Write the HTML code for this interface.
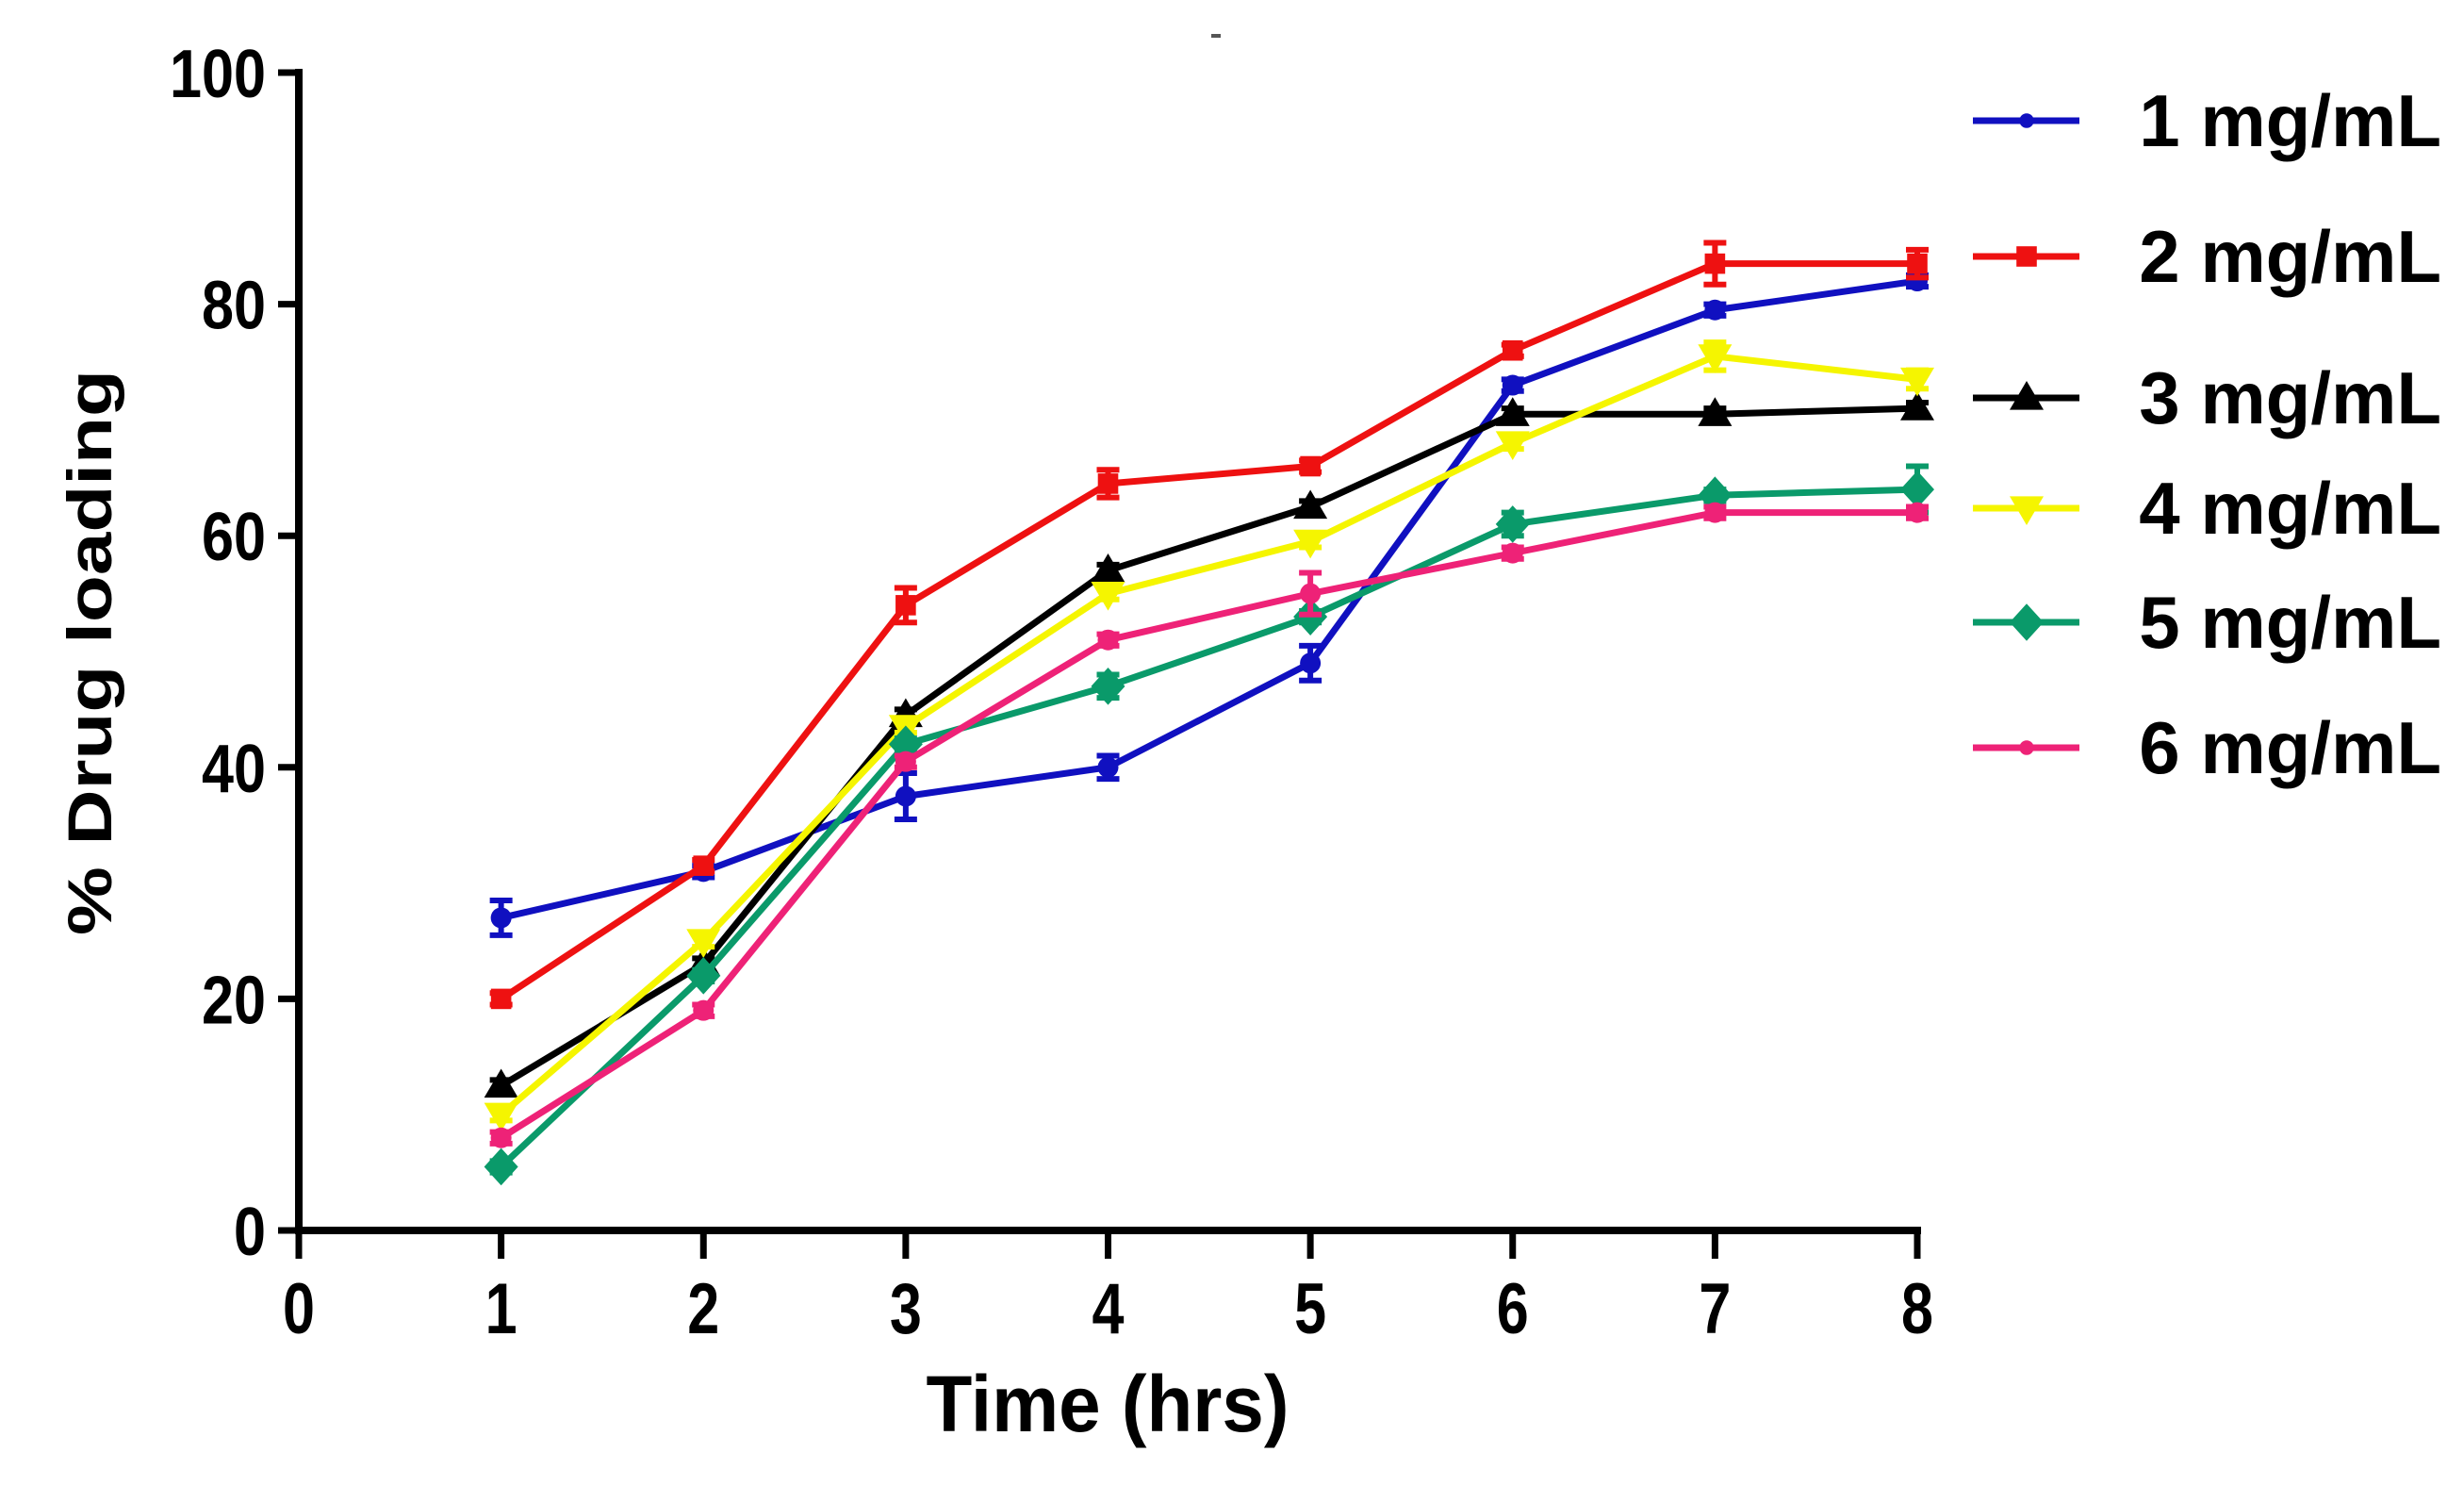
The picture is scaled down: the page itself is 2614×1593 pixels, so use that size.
<!DOCTYPE html>
<html><head><meta charset="utf-8"><style>
html,body{margin:0;padding:0;background:#fff}
svg{display:block}
text{font-family:"Liberation Sans",Arial,sans-serif;font-weight:bold;fill:#000}
</style></head><body>
<svg id="chart" width="2614" height="1593" viewBox="0 0 2614 1593" xmlns="http://www.w3.org/2000/svg">
<rect x="0" y="0" width="2614" height="1593" fill="#fff"/>
<rect x="1285" y="36" width="10" height="4" fill="#555"/>
<g id="plot"></g>
<g id="axes"></g>
<g id="legend"></g>
<text x="1175" y="1518" font-size="84" text-anchor="middle" textLength="385" lengthAdjust="spacingAndGlyphs">Time (hrs)</text>
<text transform="translate(118,692) rotate(-90)" font-size="66" text-anchor="middle" textLength="600" lengthAdjust="spacingAndGlyphs">% Drug loading</text>
</svg>
<script>
const xCategories = [1,2,3,4,5,6,7,8];
const xTickLabels = ["0","1","2","3","4","5","6","7","8"];
const yTickLabels = ["0","20","40","60","80","100"];
const seriesNames = ["1 mg/mL","2 mg/mL","3 mg/mL","4 mg/mL","5 mg/mL","6 mg/mL"];
const s1 = [27,31,37.5,40,49,73,79.5,82];
const s2 = [20,31.5,54,64.5,66,76,83.5,83.5];
const s3 = [12.5,23,44.5,57,62.5,70.5,70.5,71];
const s4 = [10,25,43.5,55,59.5,68,75.5,73.5];
const s5 = [5.5,22,42,47,53,61,63.5,64];
const s6 = [8,19,40.5,51,55,58.5,62,62];
const e1 = [1.5,0.5,2,1,1.5,0.5,0.5,0.5];
const e2 = [0.5,0.5,1.5,1.2,0.5,0.5,1.8,1.2];
const e3 = [0.5,0.5,0.5,0.5,0.5,0.5,0.5,0.5];
const e4 = [0.5,0.5,0.5,0.5,0.5,0.5,1.2,0.8];
const e5 = [0.5,0.5,0.5,1,0.5,1,0.5,2];
const e6 = [0.5,0.5,0.5,0.5,1.8,0.5,0.5,0.5];

const NS="http://www.w3.org/2000/svg";
const X0=317, X8=2034, Y0=1305, Y100=77;
const xs=v=>X0+(X8-X0)*v/8;
const ys=v=>Y0-(Y0-Y100)*v/100;
function mk(tag,attrs,parent){const e=document.createElementNS(NS,tag);for(const k in attrs)e.setAttribute(k,attrs[k]);parent.appendChild(e);return e;}
const plot=document.getElementById('plot'),axes=document.getElementById('axes'),legend=document.getElementById('legend');

const series=[
 {v:s1,e:e1,c:"#1010c0",m:"dot"},
 {v:s2,e:e2,c:"#ee1111",m:"square"},
 {v:s3,e:e3,c:"#000000",m:"tri"},
 {v:s4,e:e4,c:"#f5f500",m:"tridown"},
 {v:s5,e:e5,c:"#0a9a6a",m:"diamond"},
 {v:s6,e:e6,c:"#ee2277",m:"dot"}
];
function marker(m,x,y,c,g,sz){
 let el;
 if(m==="dot"){el=mk('circle',{cx:x,cy:y,r:sz*0.55,fill:c},g);}
 else if(m==="square"){el=mk('rect',{x:x-sz*0.6,y:y-sz*0.6,width:sz*1.2,height:sz*1.2,fill:c},g);}
 else if(m==="tri"){el=mk('polygon',{points:`${x},${y-sz} ${x-sz},${y+sz*0.7} ${x+sz},${y+sz*0.7}`,fill:c},g);}
 else if(m==="tridown"){el=mk('polygon',{points:`${x},${y+sz} ${x-sz},${y-sz*0.7} ${x+sz},${y-sz*0.7}`,fill:c},g);}
 else {el=mk('polygon',{points:`${x},${y-sz*1.1} ${x-sz},${y} ${x},${y+sz*1.1} ${x+sz},${y}`,fill:c},g);}
 return el;
}
series.forEach((s,i)=>{
 const g=mk('g',{},plot);
 
 
 const pts=s.v.map((v,j)=>xs(xCategories[j])+","+ys(v)).join(" ");
 const pl=mk('polyline',{points:pts,fill:"none",stroke:s.c,"stroke-width":7,"stroke-linejoin":"round"},g);
 
 
 s.v.forEach((v,j)=>{
  const x=xs(xCategories[j]);
  const eb=mk('path',{d:`M${x},${ys(v+s.e[j])}V${ys(v-s.e[j])}M${x-12},${ys(v+s.e[j])}H${x+12}M${x-12},${ys(v-s.e[j])}H${x+12}`,stroke:s.c,"stroke-width":6,fill:"none"},g);
  
  
  const mm=marker(s.m,x,ys(v),s.c,g,s.m==="dot"?20:18);
  
  
 });
 const ly=[128,272,422,539,660,793][i];
 const lg=mk('g',{},legend);
 
 
 mk('line',{x1:2093,x2:2206,y1:ly,y2:ly,stroke:s.c,"stroke-width":7},lg);
 marker(s.m,2150,ly,s.c,lg,s.m==="dot"?14:18);
 const t=mk('text',{x:2590,y:ly+27,"font-size":78,"text-anchor":"end"},lg);
 t.textContent=seriesNames[i];
 
 
});

// axes
const ya=mk('line',{x1:X0,x2:X0,y1:Y100-4,y2:Y0+4,stroke:"#000","stroke-width":8},axes);


const xa=mk('line',{x1:X0-4,x2:X8+4,y1:Y0,y2:Y0,stroke:"#000","stroke-width":8},axes);


yTickLabels.forEach((l,i)=>{
 const y=ys(i*20);
 mk('line',{x1:X0-22,x2:X0,y1:y,y2:y,stroke:"#000","stroke-width":7},axes);
 const t=mk('text',{x:282,y:y+26,"font-size":72,"text-anchor":"end",textLength:l.length*34,lengthAdjust:"spacingAndGlyphs"},axes);
 t.textContent=l;
 
 
});
xTickLabels.forEach((l,i)=>{
 const x=xs(i);
 mk('line',{x1:x,x2:x,y1:Y0,y2:Y0+30,stroke:"#000","stroke-width":7},axes);
 const t=mk('text',{x:x,y:1414,"font-size":76,"text-anchor":"middle",textLength:34,lengthAdjust:"spacingAndGlyphs"},axes);
 t.textContent=l;
 
 
});
</script>
</body></html>
